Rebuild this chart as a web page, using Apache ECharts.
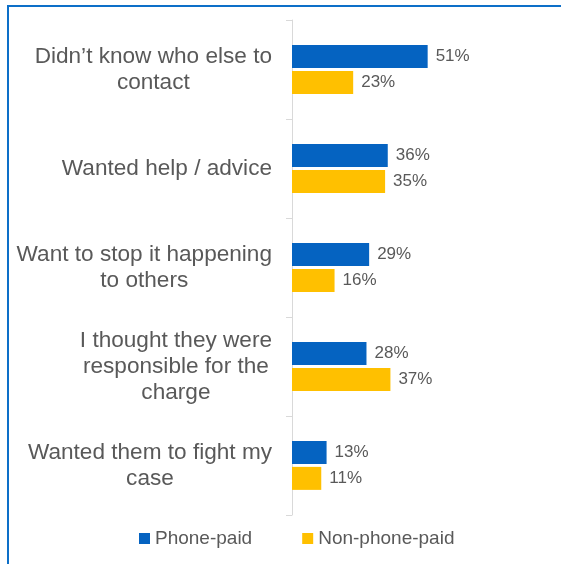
<!DOCTYPE html>
<html>
<head>
<meta charset="utf-8">
<script src="https://cdn.jsdelivr.net/npm/echarts@6/dist/echarts.min.js"></script>
<style>
  html, body { margin: 0; padding: 0; background: #fff; }
  #chart { width: 561px; height: 564px; }
</style>
</head>
<body>
<div id="chart"></div>
<script>
// Reasons for contacting, by payment type (percent of respondents)
const categories = [
  "Didn\u2019t know who else to\ncontact",
  "Wanted help / advice",
  "Want to stop it happening\nto others",
  "I thought they were\nresponsible for the\ncharge",
  "Wanted them to fight my\ncase"
];
const phonePaid = [51, 36, 29, 28, 13];
const nonPhonePaid = [23, 35, 16, 37, 11];
const seriesNames = ["Phone-paid", "Non-phone-paid"];

const textColor = "#595959";
const fontFamily = "'Liberation Sans', Arial, sans-serif";

const chart = echarts.init(document.getElementById("chart"), null, { renderer: "canvas" });

const valueLabel = {
  show: true,
  position: "right",
  distance: 8,
  formatter: p => p.value + "%",
  color: textColor,
  fontSize: 17,
  fontFamily: fontFamily
};

chart.setOption({
  animation: false,
  backgroundColor: "#ffffff",
  graphic: [{
    type: "rect",
    shape: { x: 8, y: 6, width: 700, height: 700 },
    style: { fill: "none", stroke: "#0d6fc8", lineWidth: 2 },
    silent: true,
    z: 100
  }],
  grid: { left: 292, right: 3, top: 20, bottom: 49, containLabel: false },
  legend: {
    data: seriesNames,
    left: 134,
    top: 524,
    icon: "rect",
    itemWidth: 11,
    itemHeight: 11,
    itemGap: 50,
    textStyle: { color: textColor, fontSize: 19, fontFamily: fontFamily }
  },
  xAxis: {
    type: "value",
    min: 0,
    max: 100,
    show: false
  },
  yAxis: {
    type: "category",
    inverse: true,
    data: categories,
    axisLine: { show: true, lineStyle: { color: "#d9d9d9", width: 1 } },
    axisTick: { show: true, length: 6, lineStyle: { color: "#d9d9d9" } },
    axisLabel: {
      margin: 20,
      align: "right",
      formatter: v => v.split("\n").map(s => "{c|" + s + "}").join("\n"),
      rich: {
        c: {
          align: "center",
          color: textColor,
          fontSize: 22.6,
          lineHeight: 26,
          fontFamily: fontFamily
        }
      }
    },
    splitLine: { show: false }
  },
  series: [
    {
      name: seriesNames[0],
      type: "bar",
      data: phonePaid,
      barWidth: 23,
      barGap: "12%",
      itemStyle: { color: "#0563c1" },
      label: valueLabel
    },
    {
      name: seriesNames[1],
      type: "bar",
      data: nonPhonePaid,
      barWidth: 23,
      barGap: "12%",
      itemStyle: { color: "#ffc000" },
      label: valueLabel
    }
  ]
});
</script>
</body>
</html>
